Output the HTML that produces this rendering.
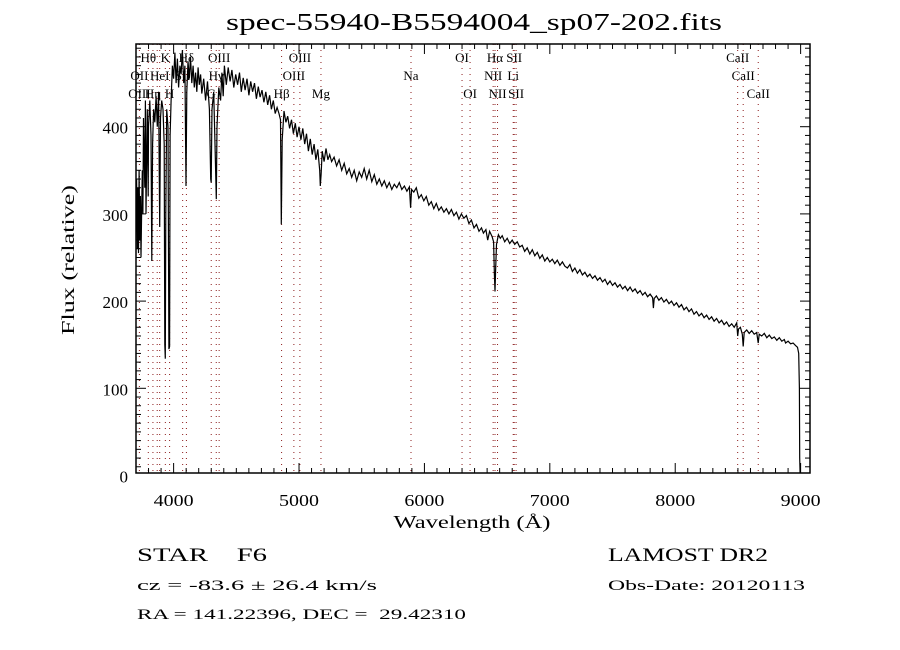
<!DOCTYPE html>
<html><head><meta charset="utf-8"><style>
html,body{margin:0;padding:0;background:#fff;}
svg{display:block;}
text{font-family:"Liberation Serif",serif;fill:#000;}
</style></head><body>
<svg id="chart" width="900" height="650" viewBox="0 0 900 650" xmlns="http://www.w3.org/2000/svg">
<rect width="900" height="650" fill="#fff"/>
<text x="474" y="30" font-size="24" text-anchor="middle" textLength="496" lengthAdjust="spacingAndGlyphs">spec-55940-B5594004_sp07-202.fits</text>
<defs><clipPath id="clip"><rect x="136" y="44" width="674" height="429"/></clipPath></defs>
<g id="lines" clip-path="url(#clip)"></g>
<g id="spec" clip-path="url(#clip)"></g>
<g id="axes"></g>
<g id="labels"></g>
<text transform="translate(74,260) rotate(-90)" font-size="18" text-anchor="middle" textLength="150" lengthAdjust="spacingAndGlyphs">Flux (relative)</text>
<text x="472" y="528" font-size="18" text-anchor="middle" textLength="157" lengthAdjust="spacingAndGlyphs">Wavelength (Å)</text>
<text x="137" y="561" font-size="19" textLength="130" lengthAdjust="spacingAndGlyphs" xml:space="preserve">STAR    F6</text>
<text x="137" y="590" font-size="15" textLength="240" lengthAdjust="spacingAndGlyphs">cz = -83.6 ± 26.4 km/s</text>
<text x="137" y="619" font-size="15" textLength="329" lengthAdjust="spacingAndGlyphs" xml:space="preserve">RA = 141.22396, DEC =  29.42310</text>
<text x="608" y="561" font-size="19" textLength="160" lengthAdjust="spacingAndGlyphs">LAMOST DR2</text>
<text x="608" y="590" font-size="15" textLength="197" lengthAdjust="spacingAndGlyphs">Obs-Date: 20120113</text>
</svg>
<script>
const wavelengths=[3700,3705,3710,3715,3720,3725,3730,3735,3740,3745,3750,3755,3760,3770,3775,3780,3790,3797,3800,3810,3820,3826,3832,3840,3850,3860,3870,3880,3889,3895,3905,3915,3925,3930,3934,3938,3945,3955,3962,3968,3972,3980,3990,4000,4010,4020,4030,4040,4050,4060,4070,4080,4090,4099,4105,4115,4125,4135,4145,4155,4165,4175,4185,4195,4205,4215,4225,4240,4255,4270,4285,4296,4300,4306,4320,4330,4340,4346,4360,4375,4385,4395,4405,4420,4435,4450,4465,4480,4495,4510,4525,4540,4555,4570,4585,4600,4615,4630,4645,4660,4675,4690,4705,4720,4735,4750,4765,4780,4795,4810,4825,4840,4852,4859,4866,4880,4895,4910,4925,4940,4955,4970,4985,5000,5015,5030,5045,5060,5075,5090,5105,5120,5135,5150,5165,5170,5176,5185,5200,5215,5230,5245,5260,5280,5300,5320,5340,5360,5380,5400,5420,5440,5460,5480,5500,5520,5540,5560,5580,5600,5620,5640,5660,5680,5700,5720,5740,5760,5780,5800,5820,5840,5860,5880,5890,5898,5915,5935,5955,5975,5995,6015,6035,6055,6075,6095,6115,6135,6155,6175,6195,6215,6235,6255,6275,6295,6315,6335,6355,6375,6395,6415,6435,6455,6470,6490,6505,6520,6540,6552,6558,6563,6568,6575,6590,6605,6620,6640,6660,6680,6700,6720,6740,6760,6780,6800,6820,6840,6860,6880,6900,6920,6940,6960,6980,7000,7020,7040,7060,7080,7100,7120,7140,7160,7180,7200,7220,7240,7260,7280,7300,7320,7340,7360,7380,7400,7420,7440,7460,7480,7500,7520,7540,7560,7580,7600,7620,7640,7660,7680,7700,7720,7740,7760,7780,7800,7820,7826,7832,7850,7870,7890,7910,7930,7950,7970,7990,8010,8030,8050,8070,8090,8110,8130,8150,8170,8190,8210,8230,8250,8270,8290,8310,8330,8350,8370,8390,8410,8430,8450,8470,8490,8498,8505,8520,8535,8542,8550,8570,8590,8610,8630,8650,8662,8670,8690,8710,8730,8750,8770,8790,8810,8830,8850,8870,8880,8900,8920,8940,8960,8975,8985,8990,8993,8996];
const fluxes=[280,340,260,330,255,350,270,320,250,300,350,300,410,330,430,300,420,320,400,430,390,246,380,420,405,435,400,440,285,410,430,420,380,150,134,300,420,400,145,148,390,430,470,455,485,450,478,445,470,460,488,450,470,332,440,475,455,480,450,470,445,462,440,468,448,460,438,455,430,452,420,340,336,420,440,380,317,400,445,430,462,435,470,448,468,452,465,445,460,448,462,440,456,442,455,436,452,440,450,432,446,434,442,428,440,425,436,420,430,415,422,415,408,288,385,418,405,412,398,408,392,404,388,400,385,398,380,392,372,386,368,380,362,374,350,332,345,372,360,375,362,368,360,365,355,362,350,358,346,352,342,350,338,348,342,352,340,350,337,345,334,340,332,338,330,336,328,334,330,336,328,332,326,331,307,328,325,330,318,322,315,320,310,314,306,312,304,308,302,306,300,305,298,302,294,300,295,298,289,293,284,288,280,284,278,282,270,280,274,268,230,211,235,265,276,272,275,268,272,266,270,265,268,262,264,257,261,254,259,252,256,249,253,246,250,245,248,243,247,241,245,240,238,242,234,238,232,236,230,233,228,231,226,229,224,227,222,225,219,223,218,221,216,219,214,217,212,216,211,214,209,212,207,210,205,208,204,192,203,206,201,204,199,202,197,200,195,198,193,196,190,193,188,191,185,188,183,186,181,184,179,182,177,180,175,178,173,176,171,174,170,175,160,168,170,162,148,164,167,163,166,162,164,152,162,160,163,158,161,157,159,155,158,154,156,152,154,151,152,149,147,140,100,20,2];
const xTicks=[4000,5000,6000,7000,8000,9000];
const yTicks=[0,100,200,300,400];
const lineWaves=[3727,3798,3835,3869,3889,3934,3968,4072,4102,4300,4340,4363,4861,4959,5007,5175,5893,6300,6364,6548,6563,6583,6708,6716,6731,8498,8542,8662];
const lineLabels=["Hθ","K","Hδ","OIII","OIII","OI","Hα","SII","CaII","OII","HeI","SII","Hγ","OIII","Na","NII","Li","CaII","OIII","Hη","H","G","Hβ","Mg","OI","NII","SII","CaII"];
const labelWaves=[3798,3934,4102,4363,5007,6300,6563,6716,8498,3727,3889,4072,4340,4959,5893,6548,6708,8542,3727,3835,3968,4300,4861,5175,6364,6583,6731,8662];
const labelRows=[0,0,0,0,0,0,0,0,0,1,1,1,1,1,1,1,1,1,2,2,2,2,2,2,2,2,2,2];

const X0=136,X1=810,Y0=44,Y1=473;
const xmin=3700,xmax=3700+(X1-X0)/0.1254;
const ymin=(475.5-Y1)/-0.872*-1*-1, ymax=(475.5-Y0)/0.872;
function sx(w){return X0+(w-xmin)*0.1254;}
function sy(f){return 475.5-f*0.872;}
const NS="http://www.w3.org/2000/svg";
function mk(tag,attrs,parent){const e=document.createElementNS(NS,tag);for(const k in attrs)e.setAttribute(k,attrs[k]);parent.appendChild(e);return e;}

const gl=document.getElementById('lines');
lineWaves.forEach(w=>{
  const l=mk('line',{x1:sx(w),x2:sx(w),y1:Y0,y2:Y1,stroke:'#8b1a1a','stroke-width':1,'stroke-dasharray':'1,5'},gl);
  
  
});

const gs=document.getElementById('spec');
let d='';
wavelengths.forEach((w,i)=>{d+=(i?'L':'M')+sx(w).toFixed(1)+' '+sy(fluxes[i]).toFixed(1);});
const p=mk('path',{d:d,fill:'none',stroke:'#000','stroke-width':1.2},gs);



const ga=document.getElementById('axes');
const fr=mk('rect',{x:X0,y:Y0,width:X1-X0,height:Y1-Y0,fill:'none',stroke:'#000','stroke-width':1.5},ga);


for(let w=3700;w<=xmax;w+=100){
  const major=w%1000===0, len=major?10:5, x=sx(w);
  mk('line',{x1:x,x2:x,y1:Y1,y2:Y1-len,stroke:'#000','stroke-width':1},ga);
  mk('line',{x1:x,x2:x,y1:Y0,y2:Y0+len,stroke:'#000','stroke-width':1},ga);
}
for(let f=0;f<=ymax;f+=10){
  const major=f%100===0, len=major?10:5, y=sy(f);
  if(y>Y1)continue;
  mk('line',{x1:X0,x2:X0+len,y1:y,y2:y,stroke:'#000','stroke-width':1},ga);
  mk('line',{x1:X1,x2:X1-len,y1:y,y2:y,stroke:'#000','stroke-width':1},ga);
}
xTicks.forEach(w=>{
  const t=mk('text',{x:sx(w),y:506,'font-size':17,'text-anchor':'middle','font-family':'Liberation Sans, sans-serif',textLength:40,lengthAdjust:'spacingAndGlyphs'},ga);
  t.textContent=w;
  
  
});
yTicks.forEach(f=>{
  const t=mk('text',{x:128,y:sy(f)+7,'font-size':17,'text-anchor':'end','font-family':'Liberation Sans, sans-serif'},ga);
  t.textContent=f;
  
  
});

const gb=document.getElementById('labels');
const rowY=[62,80,98];
lineLabels.forEach((s,i)=>{
  const t=mk('text',{x:sx(labelWaves[i]),y:rowY[labelRows[i]],'font-size':13,'text-anchor':'middle'},gb);
  t.textContent=s;
  
  
});
</script>
</body></html>
